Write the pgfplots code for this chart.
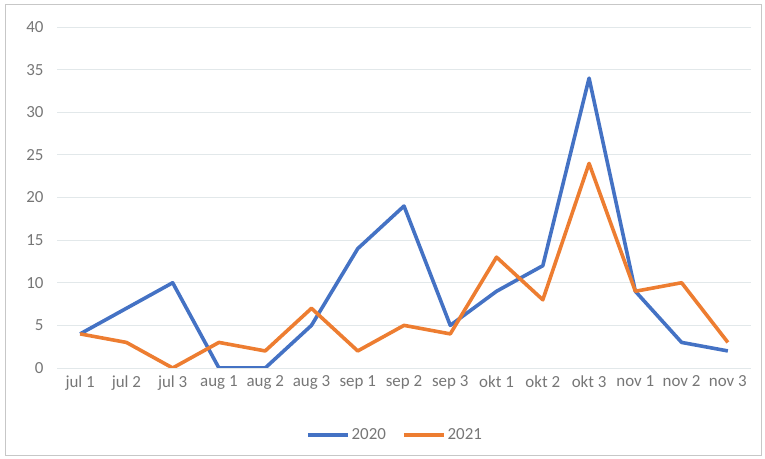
\documentclass[border=0pt]{standalone}
\usepackage{fontspec}
\setmainfont{Carlito}
\usepackage{pgfplots}
\pgfplotsset{compat=1.18}
\definecolor{cblue}{HTML}{4472C4}
\definecolor{corange}{HTML}{ED7D31}
\definecolor{tickgray}{HTML}{767676}
\definecolor{gridgray}{HTML}{E2E8EA}
\begin{document}
\begin{tikzpicture}[x=1bp,y=1bp]
\path[use as bounding box] (0,0) rectangle (765,459);
\draw[color=black!22, line width=1bp] (5,3) rectangle (761,454);
\begin{axis}[
  at={(57bp,91bp)}, anchor=south west,
  scale only axis, width=694bp, height=341bp,
  xmin=-0.5, xmax=14.5, ymin=0, ymax=40,
  ytick={0,5,...,40},
  xtick={0,...,14},
  xticklabels={jul 1,jul 2,jul 3,aug 1,aug 2,aug 3,sep 1,sep 2,sep 3,okt 1,okt 2,okt 3,nov 1,nov 2,nov 3},
  axis line style={draw=none},
  major tick length=0pt,
  ymajorgrids,
  grid style={gridgray, line width=0.8bp},
  tick label style={font=\fontsize{17}{19}\selectfont, text=tickgray},
  /pgf/number format/assume math mode=true,
  yticklabel style={xshift=-10bp},
  xticklabel style={yshift=-4bp},
  legend style={at={(0.487,-0.196)}, anchor=center, draw=none, fill=none,
    legend columns=2, font=\fontsize{17}{19}\selectfont, text=tickgray,
    /tikz/every even column/.append style={column sep=14bp}},
  legend image code/.code={\draw[#1] (0bp,0bp) -- (40bp,0bp);},
]
\addplot[cblue, line width=3.6bp, line join=round] coordinates {
(0,4) (1,7) (2,10) (3,0) (4,0) (5,5) (6,14) (7,19) (8,5) (9,9) (10,12) (11,34) (12,9) (13,3) (14,2)};
\addlegendentry{2020}
\addplot[corange, line width=3.6bp, line join=round] coordinates {
(0,4) (1,3) (2,0) (3,3) (4,2) (5,7) (6,2) (7,5) (8,4) (9,13) (10,8) (11,24) (12,9) (13,10) (14,3)};
\addlegendentry{2021}
\end{axis}
\end{tikzpicture}
\end{document}
